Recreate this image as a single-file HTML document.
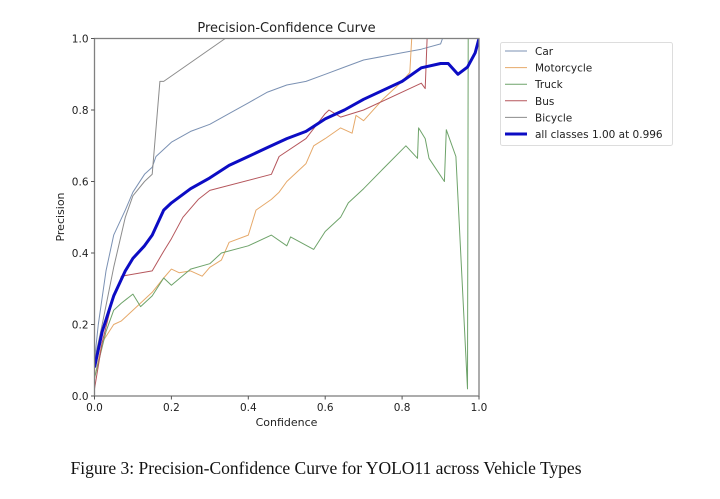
<!DOCTYPE html>
<html><head><meta charset="utf-8">
<style>
html,body{margin:0;padding:0;background:#fff;width:720px;height:499px;overflow:hidden}
svg{display:block}
text{font-family:"DejaVu Sans","Liberation Sans",sans-serif;fill:#222}
.cap{font-family:"Liberation Serif",serif;font-size:17.5px;fill:#111}
</style></head><body>
<svg id="chart" width="720" height="499" viewBox="0 0 720 499" xmlns="http://www.w3.org/2000/svg">
<text x="286.5" y="32" text-anchor="middle" font-size="13">Precision-Confidence Curve</text>
<g id="series"></g>
<rect x="94.5" y="38.5" width="384.5" height="357.5" fill="none" stroke="#808080" stroke-width="1.3"/>
<g id="ticks"></g>
<text x="286.5" y="426" text-anchor="middle" font-size="11">Confidence</text>
<text transform="translate(64,217) rotate(-90)" text-anchor="middle" font-size="11">Precision</text>
<g>
<rect x="500.5" y="42.5" width="172" height="103" rx="2" fill="#fff" stroke="#ddd"/>
<g id="legend-items"></g>
</g>
<text class="cap" x="326" y="474" text-anchor="middle">Figure 3: Precision-Confidence Curve for YOLO11 across Vehicle Types</text>
</svg>
<script>
const xTicks=[0,0.2,0.4,0.6,0.8,1.0];
const yTicks=[0,0.2,0.4,0.6,0.8,1.0];
const seriesNames=["Car","Motorcycle","Truck","Bus","Bicycle","all classes 1.00 at 0.996"];
const car=[[0,0.1],[0.01,0.2],[0.03,0.35],[0.05,0.45],[0.08,0.52],[0.1,0.57],[0.13,0.62],[0.15,0.64],[0.16,0.67],[0.2,0.71],[0.25,0.74],[0.3,0.76],[0.35,0.79],[0.4,0.82],[0.45,0.85],[0.5,0.87],[0.55,0.88],[0.6,0.9],[0.65,0.92],[0.7,0.94],[0.75,0.95],[0.8,0.96],[0.85,0.97],[0.9,0.985],[0.905,1.0],[1,1]];
const motorcycle=[[0,0.05],[0.02,0.15],[0.05,0.2],[0.07,0.21],[0.1,0.24],[0.15,0.29],[0.18,0.33],[0.2,0.355],[0.22,0.345],[0.25,0.35],[0.28,0.335],[0.3,0.36],[0.33,0.38],[0.35,0.43],[0.4,0.45],[0.42,0.52],[0.46,0.55],[0.48,0.57],[0.5,0.6],[0.55,0.65],[0.57,0.7],[0.6,0.72],[0.64,0.75],[0.67,0.735],[0.68,0.785],[0.7,0.77],[0.75,0.83],[0.8,0.88],[0.82,0.905],[0.825,1.0]];
const truck=[[0,0.05],[0.03,0.18],[0.05,0.24],[0.07,0.26],[0.1,0.285],[0.12,0.25],[0.15,0.28],[0.18,0.33],[0.2,0.31],[0.25,0.355],[0.3,0.37],[0.33,0.4],[0.4,0.42],[0.46,0.45],[0.5,0.42],[0.51,0.445],[0.57,0.41],[0.6,0.46],[0.64,0.5],[0.66,0.54],[0.7,0.58],[0.75,0.635],[0.81,0.7],[0.84,0.665],[0.843,0.75],[0.86,0.72],[0.87,0.665],[0.91,0.6],[0.915,0.745],[0.94,0.67],[0.97,0.02],[0.972,1.0],[1,1]];
const bus=[[0,0.02],[0.02,0.15],[0.05,0.28],[0.06,0.3],[0.07,0.335],[0.15,0.35],[0.18,0.405],[0.2,0.44],[0.23,0.5],[0.27,0.55],[0.3,0.575],[0.46,0.62],[0.48,0.67],[0.55,0.72],[0.6,0.79],[0.61,0.8],[0.64,0.78],[0.7,0.8],[0.85,0.875],[0.86,0.86],[0.865,1.0]];
const bicycle=[[0,0.1],[0.02,0.2],[0.05,0.36],[0.08,0.5],[0.1,0.56],[0.13,0.6],[0.15,0.62],[0.17,0.88],[0.18,0.88],[0.34,1.0],[1,1]];
const allClasses=[[0,0.08],[0.02,0.18],[0.05,0.28],[0.08,0.35],[0.1,0.385],[0.13,0.42],[0.15,0.45],[0.18,0.52],[0.2,0.54],[0.25,0.58],[0.3,0.61],[0.35,0.645],[0.4,0.67],[0.45,0.695],[0.5,0.72],[0.55,0.74],[0.6,0.775],[0.65,0.8],[0.7,0.83],[0.75,0.855],[0.8,0.88],[0.85,0.918],[0.9,0.93],[0.92,0.93],[0.945,0.9],[0.97,0.92],[0.99,0.96],[1,1.0]];
const X0=94.5,X1=479,Y0=396,Y1=38.5;
function sx(v){return X0+(X1-X0)*v;}
function sy(v){return Y0-(Y0-Y1)*v;}
const NS="http://www.w3.org/2000/svg";
const sg=document.getElementById('series');
const defs=[[car,"#7b91b3",1,"car-line"],[motorcycle,"#e6a96a",1,"motorcycle-line"],[truck,"#6ea36a",1,"truck-line"],[bus,"#b5565c",1,"bus-line"],[bicycle,"#8c8c8c",1,"bicycle-line"],[allClasses,"#0c0cc4",3,"all-classes-line"]];
const cp=document.createElementNS(NS,'clipPath');cp.setAttribute('id','clip');
const cr=document.createElementNS(NS,'rect');cr.setAttribute('x',X0);cr.setAttribute('y',Y1-2);cr.setAttribute('width',X1-X0);cr.setAttribute('height',Y0-Y1+2);cp.appendChild(cr);sg.appendChild(cp);
defs.forEach(d=>{
 const p=document.createElementNS(NS,'polyline');
 p.setAttribute('points',d[0].map(q=>sx(q[0]).toFixed(1)+','+sy(q[1]).toFixed(1)).join(' '));
 p.setAttribute('fill','none');p.setAttribute('stroke',d[1]);p.setAttribute('stroke-width',d[2]);
 p.setAttribute('stroke-linejoin','round');p.setAttribute('clip-path','url(#clip)');
 
 
 sg.appendChild(p);
});
const tg=document.getElementById('ticks');
xTicks.forEach(t=>{
 const l=document.createElementNS(NS,'line');l.setAttribute('x1',sx(t));l.setAttribute('x2',sx(t));l.setAttribute('y1',Y0);l.setAttribute('y2',Y0+3.5);l.setAttribute('stroke','#555');
 
 
 tg.appendChild(l);
 const tx=document.createElementNS(NS,'text');tx.setAttribute('x',sx(t));tx.setAttribute('y',Y0+15);tx.setAttribute('text-anchor','middle');tx.setAttribute('font-size','10.5');tx.textContent=t.toFixed(1);
 
 
 tg.appendChild(tx);
});
yTicks.forEach(t=>{
 const l=document.createElementNS(NS,'line');l.setAttribute('x1',X0-3.5);l.setAttribute('x2',X0);l.setAttribute('y1',sy(t));l.setAttribute('y2',sy(t));l.setAttribute('stroke','#555');
 
 
 tg.appendChild(l);
 const tx=document.createElementNS(NS,'text');tx.setAttribute('x',X0-6);tx.setAttribute('y',sy(t)+4);tx.setAttribute('text-anchor','end');tx.setAttribute('font-size','10.5');tx.textContent=t.toFixed(1);
 
 
 tg.appendChild(tx);
});
const lg=document.getElementById('legend-items');
seriesNames.forEach((n,i)=>{
 const y=51+i*16.6;
 const l=document.createElementNS(NS,'line');l.setAttribute('x1',505);l.setAttribute('x2',527);l.setAttribute('y1',y);l.setAttribute('y2',y);l.setAttribute('stroke',defs[i][1]);l.setAttribute('stroke-width',defs[i][2]);
 
 
 lg.appendChild(l);
 const tx=document.createElementNS(NS,'text');tx.setAttribute('x',535);tx.setAttribute('y',y+4);tx.setAttribute('font-size','10.5');tx.textContent=n;
 
 
 lg.appendChild(tx);
});
</script>
</body></html>
